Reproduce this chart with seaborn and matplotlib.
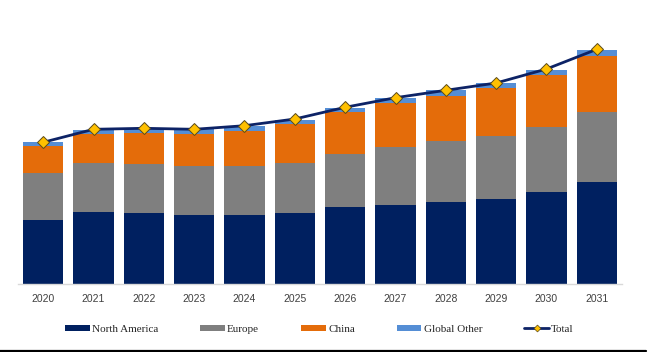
import numpy as np
import pandas as pd
import matplotlib
matplotlib.use("Agg")
import matplotlib.pyplot as plt
import seaborn as sns
from matplotlib.lines import Line2D
from matplotlib.patches import Patch

years = ["2020", "2021", "2022", "2023", "2024", "2025",
         "2026", "2027", "2028", "2029", "2030", "2031"]
north_america = [64.0, 72.3, 71.3, 68.7, 68.7, 71.3, 77.0, 78.7, 82.3, 85.3, 92.0, 102.0]
europe = [46.7, 49.0, 48.7, 49.0, 49.0, 49.7, 52.7, 58.3, 60.4, 62.7, 64.7, 70.0]
china = [27.6, 28.7, 31.3, 32.6, 35.6, 39.0, 42.6, 44.0, 45.6, 48.0, 52.0, 56.3]
global_other = [3.4, 4.0, 3.7, 4.4, 4.4, 4.3, 4.0, 5.3, 5.7, 5.3, 5.6, 5.7]
total = [141.7, 154.7, 155.7, 154.7, 158.3, 165.0, 176.7, 186.3, 193.7, 201.0, 215.0, 234.7]

series_names = ["North America", "Europe", "China", "Global Other"]
colors = ["#002060", "#7F7F7F", "#E46C0A", "#558ED5"]

sns.set_theme(style="white")
plt.rcParams["font.family"] = ["Liberation Sans", "DejaVu Sans"]

fig = plt.figure(figsize=(6.5, 3.52), dpi=100)
W, H = 650, 352
left_px, right_px, base_px, top_px = 18, 622, 284, 20
ax = fig.add_axes([left_px / W, (H - base_px) / H, (right_px - left_px) / W, (base_px - top_px) / H])

df = pd.DataFrame({"year": years, "North America": north_america, "Europe": europe,
                   "China": china, "Global Other": global_other})
cum = df[series_names].cumsum(axis=1)

# draw from top of stack downward so lower layers overlay
for name, col in reversed(list(zip(series_names, colors))):
    sns.barplot(x=df["year"], y=cum[name], color=col, width=0.795,
                saturation=1, ax=ax, edgecolor="none", linewidth=0)

sns.lineplot(x=np.arange(len(years)), y=total, ax=ax, color="#0D2366", linewidth=2.0,
             marker="D", markersize=6, markerfacecolor="#FFC000",
             markeredgecolor="#5A4A1A", markeredgewidth=0.7, zorder=5)

ax.set_xlim(-0.5, 11.5)
ax.set_ylim(0, base_px - top_px)
ax.set_xlabel("")
ax.set_ylabel("")
ax.set_yticks([])
for s in ["top", "left", "right"]:
    ax.spines[s].set_visible(False)
ax.spines["bottom"].set_color("#D9D9D9")
ax.spines["bottom"].set_linewidth(1.0)
ax.tick_params(axis="x", length=0, pad=7, labelsize=7.5, labelcolor="#404040")

handles = [Patch(facecolor=c, edgecolor="none") for c in colors]
handles.append(Line2D([0], [0], color="#0D2366", linewidth=2.0, marker="D", markersize=3.5,
                      markerfacecolor="#FFC000", markeredgecolor="#5A4A1A", markeredgewidth=0.5))
labels = series_names + ["Total"]
leg = fig.legend(handles, labels, loc="center", bbox_to_anchor=(319.5 / W, (H - 329) / H),
                 ncol=5, frameon=False, handlelength=2.2, handleheight=0.45,
                 handletextpad=0.2, columnspacing=3.8,
                 prop={"family": "Liberation Serif", "size": 8})
for t in leg.get_texts():
    t.set_color("#262626")

fig.add_artist(Line2D([0, 646 / W], [(H - 350.5) / H] * 2, color="black", linewidth=1.6,
                      transform=fig.transFigure))

fig.savefig("out.png", dpi=100)
